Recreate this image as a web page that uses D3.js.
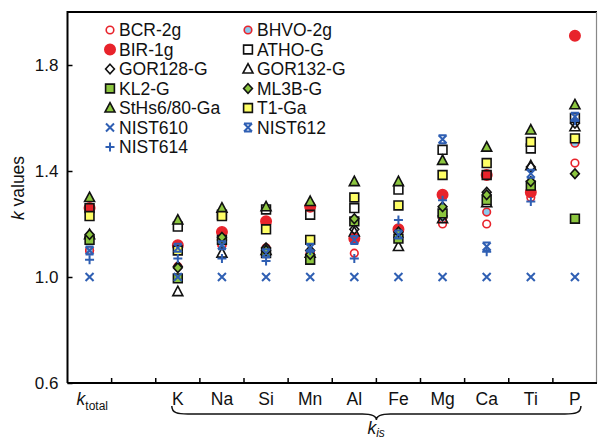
<!DOCTYPE html>
<html>
<head>
<meta charset="utf-8">
<script src="https://cdn.jsdelivr.net/npm/d3@7"></script>
<style>
  body { margin: 0; background: #fff; }
  text { font-family: "Liberation Sans", Arial, sans-serif; }
</style>
</head>
<body>
<div id="vis"></div>
<script>
// slots along the x axis (one empty slot after k_total)
const slots = ["ktotal", "gap", "K", "Na", "Si", "Mn", "Al", "Fe", "Mg", "Ca", "Ti", "P"];
const elements = ["K", "Na", "Si", "Mn", "Al", "Fe", "Mg", "Ca", "Ti", "P"];
const cols = ["ktotal", "K", "Na", "Si", "Mn", "Al", "Fe", "Mg", "Ca", "Ti", "P"];
const yTicks = [0.6, 1.0, 1.4, 1.8];

// k values per reference glass, in the order of cols
const bcr2g    = [1.10, 1.04, 1.12, 1.10, 1.09, 1.09, 1.18, 1.20, 1.20, 1.30, 1.43];
const bhvo2g   = [1.10, 1.11, 1.12, 1.11, 1.09, 1.14, 1.18, 1.22, 1.245, 1.315, 1.505];
const bir1g    = [1.26, 1.12, 1.17, 1.21, 1.265, 1.145, 1.18, 1.31, 1.385, 1.32, 1.91];
const athoG    = [1.26, 1.19, 1.235, 1.255, 1.235, 1.26, 1.33, 1.48, 1.385, 1.485, 1.60];
const gor128G  = [1.15, 1.04, 1.14, 1.11, 1.10, 1.18, 1.15, 1.23, 1.32, 1.415, 1.58];
const gor132G  = [1.16, 0.945, 1.09, 1.10, 1.09, 1.17, 1.115, 1.22, 1.28, 1.42, 1.567];
const kl2G     = [1.14, 0.995, 1.14, 1.09, 1.065, 1.21, 1.145, 1.24, 1.29, 1.345, 1.22];
const ml3bG    = [1.16, 1.035, 1.15, 1.10, 1.085, 1.22, 1.17, 1.265, 1.31, 1.36, 1.39];
const sths680  = [1.30, 1.215, 1.26, 1.265, 1.285, 1.36, 1.36, 1.44, 1.49, 1.555, 1.65];
const t1Ga     = [1.23, 1.10, 1.23, 1.18, 1.14, 1.30, 1.27, 1.385, 1.43, 1.51, 1.523];
const nist610  = [1.00, 1.00, 1.00, 1.00, 1.00, 1.00, 1.00, 1.00, 1.00, 1.00, 1.00];
const nist612  = [1.10, 1.11, 1.12, 1.09, 1.11, 1.14, 1.16, 1.52, 1.115, 1.39, 1.605];
const nist614  = [1.065, 1.07, 1.07, 1.06, 1.10, 1.07, 1.215, 1.29, 1.095, 1.285, 1.59];

const red = "#e8232b", green = "#8cc63f", yellow = "#ffff66", lblue = "#8cc8ec", blue = "#2f5fb3";

const series = [
    {name: "BCR-2g", values: bcr2g, shape: "circle", fill: "#fff", stroke: red},
    {name: "BHVO-2g", values: bhvo2g, shape: "circle", fill: lblue, stroke: red},
    {name: "BIR-1g", values: bir1g, shape: "bigcircle", fill: red, stroke: red},
    {name: "ATHO-G", values: athoG, shape: "square", fill: "none", stroke: "#111"},
    {name: "GOR128-G", values: gor128G, shape: "diamond", fill: "none", stroke: "#111"},
    {name: "GOR132-G", values: gor132G, shape: "triangle", fill: "none", stroke: "#111"},
    {name: "KL2-G", values: kl2G, shape: "square", fill: green, stroke: "#111"},
    {name: "ML3B-G", values: ml3bG, shape: "diamond", fill: green, stroke: "#111"},
    {name: "StHs6/80-Ga", values: sths680, shape: "triangle", fill: green, stroke: "#111"},
    {name: "T1-Ga", values: t1Ga, shape: "square", fill: yellow, stroke: "#111"},
    {name: "NIST610", values: nist610, shape: "x", fill: "none", stroke: blue},
    {name: "NIST612", values: nist612, shape: "star", fill: "none", stroke: blue},
    {name: "NIST614", values: nist614, shape: "plus", fill: "none", stroke: blue}
];

function markerPath(shape) {
    if (shape === "circle") return "M-3.8,0a3.8,3.8 0 1,0 7.6,0a3.8,3.8 0 1,0 -7.6,0";
    if (shape === "bigcircle") return "M-5.2,0a5.2,5.2 0 1,0 10.4,0a5.2,5.2 0 1,0 -10.4,0";
    if (shape === "square") return "M-4.4,-4.4h8.8v8.8h-8.8Z";
    if (shape === "diamond") return "M0,-4.8L4.4,0L0,4.8L-4.4,0Z";
    if (shape === "triangle") return "M0,-5.4L5,4L-5,4Z";
    if (shape === "x") return "M-4,-4L4,4M-4,4L4,-4";
    if (shape === "plus") return "M-4.5,0H4.5M0,-4.5V4.5";
    if (shape === "star") return "M-4,-4L4,4M-4,4L4,-4M-4,-4H4M-4,4H4";
}

const svg = d3.select("#vis")
    .append("svg")
    .attr("width", 598)
    .attr("height", 440);

const mLeft = 67.5, mRight = 597, mTop = 12, mBottom = 383;

const x = d3.scaleBand()
    .domain(slots)
    .range([mLeft, mRight]);

const y = d3.scaleLinear()
    .domain([0.6, 2.0])
    .range([mBottom, mTop]);

// frame
svg.append("path")
    .attr("d", `M${mLeft},${mBottom}V${mTop}H${mRight}`)
    .attr("fill", "none")
    .attr("stroke", "#000")
    .attr("stroke-width", 2);
svg.append("line")
    .attr("x1", mRight - 0.5).attr("x2", mRight - 0.5)
    .attr("y1", mTop).attr("y2", mBottom)
    .attr("stroke", "#888")
    .attr("stroke-width", 1.2);
svg.append("line")
    .attr("x1", mLeft).attr("x2", mRight)
    .attr("y1", mBottom).attr("y2", mBottom)
    .attr("stroke", "#000")
    .attr("stroke-width", 2);

// y axis, ticks point inward
const yAxis = svg.append("g")
    .attr("transform", `translate(${mLeft},0)`)
    .call(d3.axisLeft(y).tickValues(yTicks).tickFormat(d3.format(".1f"))
        .tickSizeInner(-5).tickSizeOuter(0).tickPadding(9));
yAxis.select(".domain").remove();
yAxis.selectAll("line").attr("stroke-width", 1.5);
yAxis.selectAll("text")
    .attr("font-size", 17)
    .attr("font-family", "Liberation Sans, Arial, sans-serif")
    .attr("fill", "#111");

// x ticks on slot boundaries
svg.append("g")
    .selectAll("line")
    .data(slots.slice(1))
    .enter()
    .append("line")
    .attr("x1", d => x(d)).attr("x2", d => x(d))
    .attr("y1", mBottom).attr("y2", mBottom - 5)
    .attr("stroke", "#000")
    .attr("stroke-width", 1.5);

// element labels
svg.append("g")
    .selectAll("text")
    .data(elements)
    .enter()
    .append("text")
    .attr("x", d => x(d) + x.bandwidth() / 2)
    .attr("y", 405)
    .attr("text-anchor", "middle")
    .attr("font-size", 17.5)
    .attr("fill", "#111")
    .text(d => d);

const ktot = svg.append("text")
    .attr("x", x("ktotal") + x.bandwidth() / 2 - 13)
    .attr("y", 405)
    .attr("font-size", 17.5)
    .attr("fill", "#111");
ktot.append("tspan").attr("font-style", "italic").text("k");
ktot.append("tspan").attr("font-size", 12).attr("dy", 5).text("total");

// brace under the element columns
const bx1 = x("K") + x.bandwidth() / 2 - 6, bx2 = x("P") + x.bandwidth() / 2 + 6;
const bm = (bx1 + bx2) / 2, by = 406;
svg.append("path")
    .attr("d", `M${bx1},${by}C${bx1},${by + 7} ${bx1 + 6},${by + 8} ${bx1 + 16},${by + 8}` +
        `L${bm - 14},${by + 8}C${bm - 6},${by + 8} ${bm},${by + 10} ${bm},${by + 14}` +
        `C${bm},${by + 10} ${bm + 6},${by + 8} ${bm + 14},${by + 8}` +
        `L${bx2 - 16},${by + 8}C${bx2 - 6},${by + 8} ${bx2},${by + 7} ${bx2},${by}`)
    .attr("fill", "none")
    .attr("stroke", "#111")
    .attr("stroke-width", 1.5);

const kis = svg.append("text")
    .attr("x", bm - 9)
    .attr("y", 434)
    .attr("font-size", 17.5)
    .attr("fill", "#111");
kis.append("tspan").attr("font-style", "italic").text("k");
kis.append("tspan").attr("font-style", "italic").attr("font-size", 12).attr("dy", 3).text("is");

// y title
const yt = svg.append("text")
    .attr("transform", "translate(24,188) rotate(-90)")
    .attr("text-anchor", "middle")
    .attr("font-size", 17.5)
    .attr("fill", "#111");
yt.append("tspan").attr("font-style", "italic").text("k");
yt.append("tspan").text(" values");

// points
const pts = svg.append("g");
series.forEach(s => {
    pts.append("g")
        .selectAll("path")
        .data(s.values)
        .enter()
        .append("path")
        .attr("transform", (d, i) => `translate(${x(cols[i]) + x.bandwidth() / 2},${y(d)})`)
        .attr("d", markerPath(s.shape))
        .attr("fill", s.fill)
        .attr("stroke", s.stroke)
        .attr("stroke-width", s.shape === "x" || s.shape === "plus" || s.shape === "star" ? 2 : 1.6);
});

// legend
const legend = svg.append("g");
series.forEach((s, i) => {
    const col = i % 2, row = Math.floor(i / 2);
    const lx = col === 0 ? 110 : 248;
    const ly = 30 + row * 19.5;
    legend.append("path")
        .attr("transform", `translate(${lx},${ly})`)
        .attr("d", markerPath(s.shape))
        .attr("fill", s.fill === "none" ? "#fff" : s.fill)
        .attr("stroke", s.stroke)
        .attr("stroke-width", s.shape === "x" || s.shape === "plus" || s.shape === "star" ? 2 : 1.6);
    legend.append("text")
        .attr("x", lx + 9)
        .attr("y", ly + 6)
        .attr("font-size", 17.5)
        .attr("fill", "#111")
        .text(s.name);
});
</script>
</body>
</html>
